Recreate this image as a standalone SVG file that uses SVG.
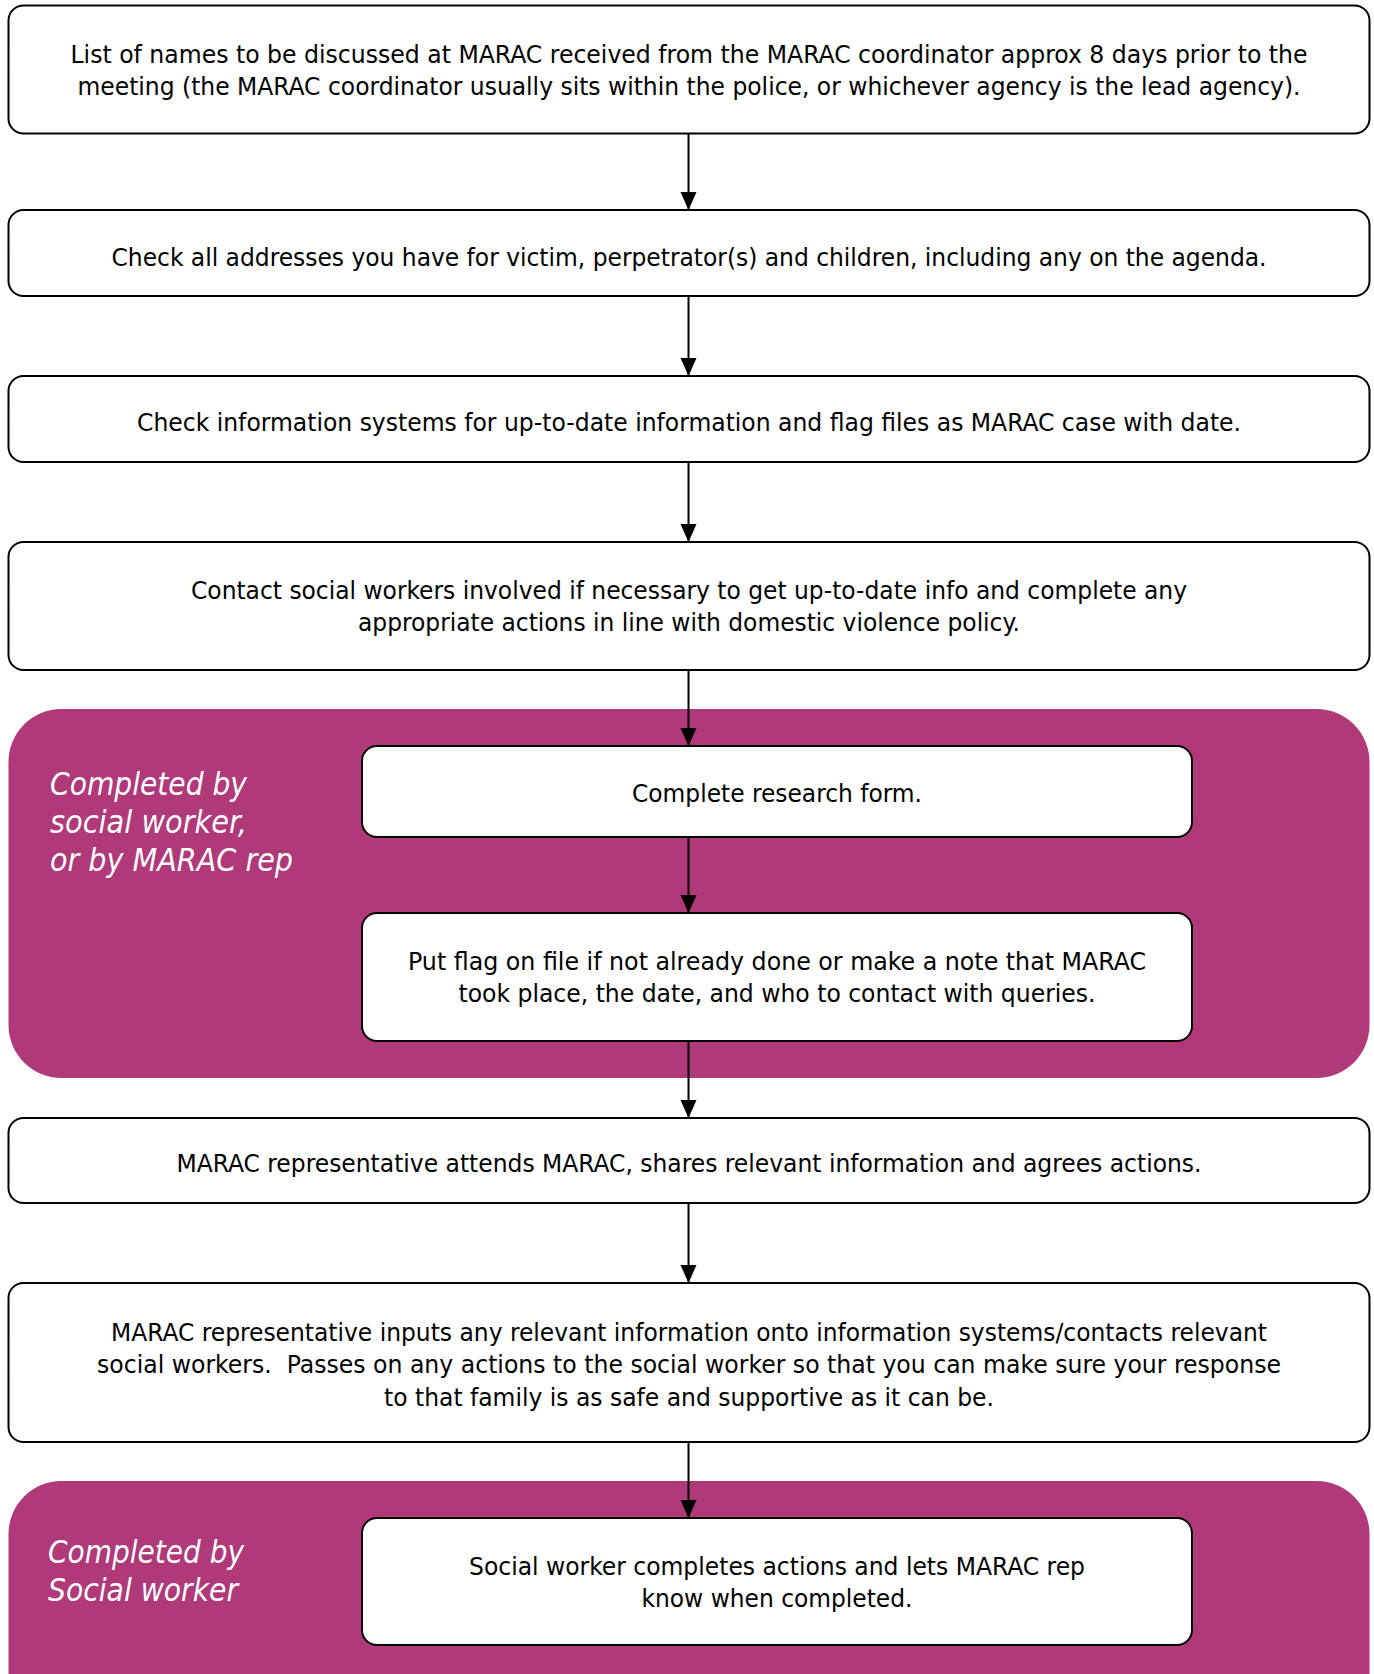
<svg xmlns="http://www.w3.org/2000/svg" width="1374" height="1674" viewBox="0 0 1374 1674">
<defs>
<marker id="ah" markerUnits="userSpaceOnUse" markerWidth="18" markerHeight="20" refX="18" refY="8" orient="auto">
<path d="M0,0 L18,8 L0,16 Z" fill="#000"/>
</marker>
<style>
.box{fill:#fff;stroke:#000;stroke-width:2}
.panel{fill:#b0397a}
.t{font-family:"DejaVu Sans Condensed","DejaVu Sans","Liberation Sans",sans-serif;font-stretch:condensed;font-size:25px;fill:#000;text-anchor:middle}
.lbl{font-family:"DejaVu Sans Condensed","DejaVu Sans","Liberation Sans",sans-serif;font-stretch:condensed;font-style:italic;font-size:32px;fill:#fff}
.c{stroke:#000;stroke-width:2;fill:none;marker-end:url(#ah)}
</style>
</defs>
<rect width="1374" height="1674" fill="#fff"/>
<g id="panel1">
<rect class="panel" x="8.5" y="709" width="1361" height="369" rx="53"/>
<text class="lbl"><tspan x="50" y="795" textLength="197" lengthAdjust="spacingAndGlyphs">Completed by</tspan><tspan x="50" y="833" textLength="197" lengthAdjust="spacingAndGlyphs">social worker,</tspan><tspan x="50" y="871" textLength="243" lengthAdjust="spacingAndGlyphs">or by MARAC rep</tspan></text>
</g>
<g id="panel2">
<rect class="panel" x="8.5" y="1481" width="1361" height="260" rx="53"/>
<text class="lbl"><tspan x="48" y="1563" textLength="196" lengthAdjust="spacingAndGlyphs">Completed by</tspan><tspan x="48" y="1601" textLength="190" lengthAdjust="spacingAndGlyphs">Social worker</tspan></text>
</g>
<g id="connectors">
<line class="c" x1="688.5" y1="134" x2="688.5" y2="210"/>
<line class="c" x1="688.5" y1="296" x2="688.5" y2="376"/>
<line class="c" x1="688.5" y1="462" x2="688.5" y2="542"/>
<line class="c" x1="688.5" y1="670" x2="688.5" y2="746"/>
<line class="c" x1="688.5" y1="837" x2="688.5" y2="913"/>
<line class="c" x1="688.5" y1="1041" x2="688.5" y2="1118"/>
<line class="c" x1="688.5" y1="1203" x2="688.5" y2="1283"/>
<line class="c" x1="688.5" y1="1442" x2="688.5" y2="1518"/>
</g>
<g id="n1">
<rect class="box" x="8.5" y="5.5" width="1361" height="128" rx="15"/>
<text class="t"><tspan x="689" y="63" textLength="1237" lengthAdjust="spacingAndGlyphs">List of names to be discussed at MARAC received from the MARAC coordinator approx 8 days prior to the</tspan><tspan x="689" y="95" textLength="1223" lengthAdjust="spacingAndGlyphs">meeting (the MARAC coordinator usually sits within the police, or whichever agency is the lead agency).</tspan></text>
</g>
<g id="n2">
<rect class="box" x="8.5" y="210" width="1361" height="86" rx="15"/>
<text class="t" x="689" y="266" textLength="1155" lengthAdjust="spacingAndGlyphs">Check all addresses you have for victim, perpetrator(s) and children, including any on the agenda.</text>
</g>
<g id="n3">
<rect class="box" x="8.5" y="376" width="1361" height="86" rx="15"/>
<text class="t" x="689" y="431" textLength="1104" lengthAdjust="spacingAndGlyphs">Check information systems for up-to-date information and flag files as MARAC case with date.</text>
</g>
<g id="n4">
<rect class="box" x="8.5" y="542" width="1361" height="128" rx="15"/>
<text class="t"><tspan x="689" y="599" textLength="996" lengthAdjust="spacingAndGlyphs">Contact social workers involved if necessary to get up-to-date info and complete any</tspan><tspan x="689" y="631" textLength="662" lengthAdjust="spacingAndGlyphs">appropriate actions in line with domestic violence policy.</tspan></text>
</g>
<g id="n5">
<rect class="box" x="362" y="746" width="830" height="91" rx="15"/>
<text class="t" x="777" y="802" textLength="290" lengthAdjust="spacingAndGlyphs">Complete research form.</text>
</g>
<g id="n6">
<rect class="box" x="362" y="913" width="830" height="128" rx="15"/>
<text class="t"><tspan x="777" y="970" textLength="738" lengthAdjust="spacingAndGlyphs">Put flag on file if not already done or make a note that MARAC</tspan><tspan x="777" y="1002" textLength="637" lengthAdjust="spacingAndGlyphs">took place, the date, and who to contact with queries.</tspan></text>
</g>
<g id="n7">
<rect class="box" x="8.5" y="1118" width="1361" height="85" rx="15"/>
<text class="t" x="689" y="1172" textLength="1025" lengthAdjust="spacingAndGlyphs">MARAC representative attends MARAC, shares relevant information and agrees actions.</text>
</g>
<g id="n8">
<rect class="box" x="8.5" y="1283" width="1361" height="159" rx="15"/>
<text class="t"><tspan x="689" y="1341" textLength="1156" lengthAdjust="spacingAndGlyphs">MARAC representative inputs any relevant information onto information systems/contacts relevant</tspan><tspan x="689" y="1373" textLength="1184" lengthAdjust="spacingAndGlyphs">social workers.&#160; Passes on any actions to the social worker so that you can make sure your response</tspan><tspan x="689" y="1406" textLength="610" lengthAdjust="spacingAndGlyphs">to that family is as safe and supportive as it can be.</tspan></text>
</g>
<g id="n9">
<rect class="box" x="362" y="1518" width="830" height="127" rx="15"/>
<text class="t"><tspan x="777" y="1575" textLength="616" lengthAdjust="spacingAndGlyphs">Social worker completes actions and lets MARAC rep</tspan><tspan x="777" y="1607" textLength="271" lengthAdjust="spacingAndGlyphs">know when completed.</tspan></text>
</g>
</svg>
